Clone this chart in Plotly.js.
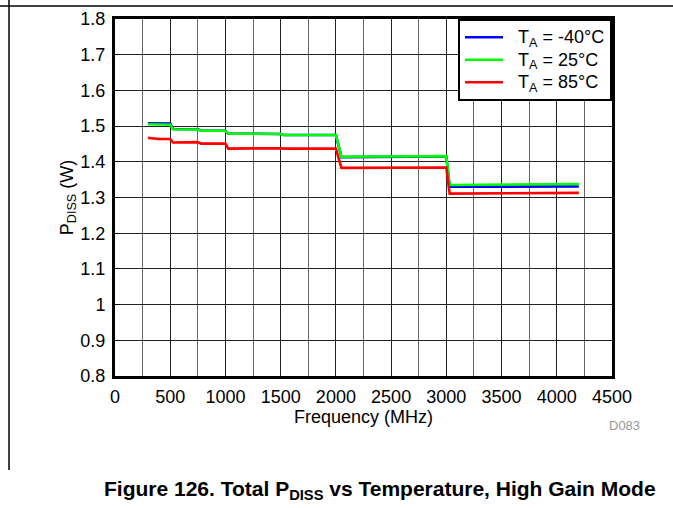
<!DOCTYPE html>
<html>
<head>
<meta charset="utf-8">
<script src="https://cdn.plot.ly/plotly-3.0.1.min.js"></script>
<style>
  html, body { margin: 0; padding: 0; background: #fff; }
  #chart { width: 673px; height: 508px; }
</style>
</head>
<body>
<div id="chart"></div>
<script>
// Frequency (MHz) sample points
const freqMHz = [300, 400, 500, 525, 750, 780, 1000, 1025, 1500, 1525, 2000, 2050, 3000, 3030, 4200];
// PDISS (W) per temperature
const pdissM40 = [1.508, 1.507, 1.507, 1.492, 1.491, 1.487, 1.487, 1.479, 1.478, 1.475, 1.475, 1.413, 1.415, 1.330, 1.331];
const pdiss25  = [1.505, 1.505, 1.504, 1.491, 1.490, 1.487, 1.487, 1.479, 1.478, 1.475, 1.475, 1.414, 1.416, 1.335, 1.338];
const pdiss85  = [1.467, 1.464, 1.464, 1.454, 1.455, 1.451, 1.451, 1.437, 1.438, 1.437, 1.437, 1.383, 1.384, 1.311, 1.313];
const seriesNames = ['T<sub>A</sub> = -40°C', 'T<sub>A</sub> = 25°C', 'T<sub>A</sub> = 85°C'];
const seriesColors = ['#0000ff', '#00ff00', '#ff0000'];
const xTickVals = [0, 500, 1000, 1500, 2000, 2500, 3000, 3500, 4000, 4500];

const font = 'Arial, "Liberation Sans", Helvetica, sans-serif';
const ys = [pdissM40, pdiss25, pdiss85];
const traces = ys.map((y, i) => ({
  x: freqMHz, y: y, type: 'scatter', mode: 'lines',
  name: '<span style="font-size:18px">\u00a0\u00a0' + seriesNames[i] + '</span>',
  line: { color: seriesColors[i], width: 2.6 }
}));

const L = 115, R = 61, T = 19, B = 132, W = 673, H = 508;
const pw = W - L - R, ph = H - T - B;
const px = v => (v - L) / pw;
const py = v => (H - B - v) / ph;

const layout = {
  width: W, height: H,
  margin: { l: L, r: R, t: T, b: B, pad: 0 },
  paper_bgcolor: '#fff', plot_bgcolor: '#fff',
  font: { family: font, size: 18, color: '#000' },
  showlegend: true,
  legend: {
    x: 1, xanchor: 'right', y: 1, yanchor: 'top',
    bgcolor: '#fff', bordercolor: '#000', borderwidth: 2,
    font: { family: font, size: 15, color: '#000' },
    itemwidth: 38,
    tracegroupgap: 0
  },
  xaxis: {
    range: [0, 4500], tickvals: xTickVals, ticktext: xTickVals.map(String),
    showline: true, linecolor: '#000', linewidth: 3, mirror: true,
    showgrid: true, gridcolor: '#222', gridwidth: 1,
    minor: { dtick: 250, showgrid: true, gridcolor: '#666', gridwidth: 1 },
    ticks: '', zeroline: false,
    ticklabelstandoff: 2,
    tickfont: { family: font, size: 18, color: '#000' },
    title: { text: 'Frequency (MHz)', font: { family: font, size: 18, color: '#000' }, standoff: 0 }
  },
  yaxis: {
    range: [0.8, 1.8], dtick: 0.1, tick0: 0.8,
    showline: true, linecolor: '#000', linewidth: 3, mirror: true,
    showgrid: true, gridcolor: '#222', gridwidth: 1,
    ticks: 'inside', ticklen: 5, tickcolor: '#000', zeroline: false,
    ticklabelstandoff: 3,
    tickfont: { family: font, size: 18, color: '#000' },
    title: { text: 'P<sub>DISS</sub> (W)', font: { family: font, size: 18, color: '#000' }, standoff: 3 }
  },
  shapes: [
    { type: 'line', xref: 'paper', yref: 'paper', x0: px(0), x1: px(W), y0: py(6), y1: py(6), line: { color: '#000', width: 1.5 } },
    { type: 'line', xref: 'paper', yref: 'paper', x0: px(9), x1: px(9), y0: py(0), y1: py(470), line: { color: '#000', width: 1.5 } }
  ],
  annotations: [
    { xref: 'paper', yref: 'paper', x: px(624), y: py(425), xanchor: 'center', yanchor: 'middle',
      text: 'D083', showarrow: false, font: { family: font, size: 13, color: '#999' } },
    { xref: 'paper', yref: 'paper', x: px(380), y: py(490), xanchor: 'center', yanchor: 'middle',
      text: '<b>Figure 126. Total P<sub>DISS</sub> vs Temperature, High Gain Mode</b>', showarrow: false,
      font: { family: font, size: 21, color: '#000' } }
  ]
};

Plotly.newPlot('chart', traces, layout, { staticPlot: true, displayModeBar: false });
</script>
</body>
</html>
